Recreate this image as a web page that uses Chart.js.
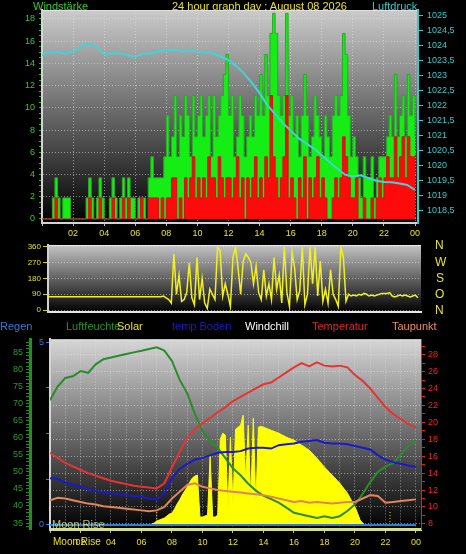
<!DOCTYPE html>
<html>
<head>
<meta charset="utf-8">
<script src="https://cdn.jsdelivr.net/npm/chart.js@4.4.1/dist/chart.umd.min.js"></script>
<style>
  html, body { margin: 0; padding: 0; background: #000; }
  #wrap { position: relative; width: 466px; height: 554px; overflow: hidden; background: #000;
          font-family: "Liberation Sans", Arial, sans-serif; }
  canvas { position: absolute; left: 0; }
  .t { position: absolute; font-size: 11px; line-height: 12px; white-space: nowrap; }
</style>
</head>
<body>
<div id="wrap">
  <canvas id="windChart" width="466" height="240" style="top:0px"></canvas>
  <canvas id="dirChart" width="466" height="82" style="top:238px"></canvas>
  <canvas id="tempChart" width="466" height="223" style="top:331px"></canvas>

  <div class="t" style="left:33px;top:0px;color:#33cc33">Windstärke</div>
  <div class="t" style="left:172px;top:0px;color:#e8e030">24 hour graph day : August 08 2026</div>
  <div class="t" style="left:372px;top:0px;color:#33cccc">Luftdruck</div>

  <div class="t" style="left:435px;top:239px;color:#e8e030;font-size:12px">N</div>
  <div class="t" style="left:435px;top:256px;color:#e8e030;font-size:12px">W</div>
  <div class="t" style="left:436px;top:272px;color:#e8e030;font-size:12px">S</div>
  <div class="t" style="left:435px;top:288px;color:#e8e030;font-size:12px">O</div>
  <div class="t" style="left:435px;top:304px;color:#e8e030;font-size:12px">N</div>

  <div class="t" style="left:0px;top:320px;color:#3b78d8">Regen</div>
  <div class="t" style="left:66px;top:320px;color:#2a8f2a">Luftfeuchte</div>
  <div class="t" style="left:117px;top:320px;color:#e8e030">Solar</div>
  <div class="t" style="left:172px;top:320px;color:#1c1cc8">temp Boden</div>
  <div class="t" style="left:245px;top:320px;color:#ffffff">Windchill</div>
  <div class="t" style="left:312px;top:320px;color:#e02424">Temperatur</div>
  <div class="t" style="left:392px;top:320px;color:#f08a64">Taupunkt</div>

  <div class="t" style="left:52px;top:518px;color:rgba(215,215,140,0.85)">Moon Rise</div>
  <div class="t" style="left:53px;top:536px;color:#e8e020;font-size:10px">Moon Rise</div>
</div>

<script>
// Wind (km/h), one value every 10 minutes, 00:00 .. 24:00
const windBoen = [
  0, 0, 0, 0, 1.9, 3.7,   1.9, 0, 1.9, 1.9, 1.9, 0,
  0, 0, 0, 0, 0, 1.9,     3.7, 1.9, 0, 1.9, 3.7, 1.9,
  0, 0, 1.9, 3.7, 1.9, 0, 1.9, 3.7, 1.9, 3.7, 1.9, 1.9,
  0, 1.9, 1.9, 1.9, 0, 3.7, 5.6, 3.7, 3.7, 3.7, 3.7, 5.6,
  9.3, 5.6, 7.4, 11.1, 5.6, 9.3,   7.4, 11.1, 9.3, 5.6, 11.1, 7.4,
  9.3, 11.1, 7.4, 9.3, 11.1, 5.6,  11.1, 7.4, 9.3, 11.1, 13, 14.8,
  9.3, 11.1, 5.6, 7.4, 11.1, 9.3,  5.6, 7.4, 9.3, 7.4, 11.1, 9.3,
  13, 9.3, 14.8, 11.1, 16.7, 18.5, 16.7, 11.1, 9.3, 11.1, 18.5, 9.3,
  11.1, 7.4, 9.3, 5.6, 9.3, 13,    9.3, 5.6, 7.4, 11.1, 9.3, 7.4,
  5.6, 9.3, 7.4, 5.6, 9.3, 11.1,   9.3, 11.1, 16.7, 14.8, 9.3, 5.6,
  7.4, 5.6, 3.7, 1.9, 5.6, 3.7,    3.7, 5.6, 1.9, 3.7, 5.6, 5.6,
  5.6, 7.4, 9.3, 7.4, 13, 7.4,     9.3, 11.1, 7.4, 13, 9.3, 11.1,
  7.4
];
const windMittel = [
  0, 0, 0, 0, 0, 1.9,     0, 0, 0, 0, 0, 0,
  0, 0, 0, 0, 0, 0,       1.9, 0, 0, 0, 1.9, 0,
  0, 0, 0, 1.9, 0, 0,     0, 1.9, 0, 1.9, 0, 0,
  0, 0, 1.9, 0, 0, 1.9,   1.9, 1.9, 1.9, 0, 1.9, 0,
  1.9, 1.9, 3.7, 3.7, 0, 1.9,     0, 3.7, 1.9, 3.7, 5.6, 1.9,
  3.7, 1.9, 3.7, 1.9, 5.6, 3.7,   3.7, 1.9, 5.6, 3.7, 1.9, 3.7,
  3.7, 1.9, 3.7, 5.6, 1.9, 3.7,   0, 3.7, 1.9, 3.7, 5.6, 1.9,
  3.7, 1.9, 5.6, 3.7, 11.1, 5.6,  3.7, 1.9, 3.7, 5.6, 11.1, 1.9,
  3.7, 1.9, 0, 3.7, 1.9, 5.6,     0, 3.7, 1.9, 3.7, 5.6, 1.9,
  3.7, 1.9, 0, 0, 1.9, 3.7,       1.9, 3.7, 7.4, 5.6, 3.7, 1.9,
  1.9, 3.7, 0, 0, 1.9, 0,         0, 1.9, 0, 1.9, 3.7, 1.9,
  3.7, 5.6, 3.7, 3.7, 7.4, 3.7,   5.6, 7.4, 3.7, 7.4, 5.6, 5.6,
  5.6
];
// Luftdruck (hPa), every 30 minutes
const luftdruck = [
  1023.67, 1023.78, 1023.75, 1023.72, 1023.78, 1023.94, 1024.05, 1023.95,
  1023.70, 1023.72, 1023.74, 1023.66, 1023.62, 1023.70, 1023.72, 1023.80,
  1023.83, 1023.85, 1023.78, 1023.83, 1023.78, 1023.76, 1023.72, 1023.62,
  1023.50, 1023.30, 1023.05, 1022.75, 1022.40, 1022.00, 1021.70, 1021.40,
  1021.15, 1020.90, 1020.72, 1020.55, 1020.33, 1020.10, 1019.88, 1019.68,
  1019.62, 1019.66, 1019.57, 1019.48, 1019.44, 1019.43, 1019.39, 1019.34,
  1019.17
];
// Windrichtung (Grad), every 10 minutes
const windRichtung = [
  76, 76, 76, 76, 76, 76, 76, 76, 76, 76, 76, 76,
  76, 76, 76, 76, 76, 76, 76, 76, 76, 76, 76, 76,
  76, 76, 76, 76, 76, 76, 76, 76, 76, 76, 76, 76,
  76, 76, 76, 76, 76, 76, 76, 76, 76, 80, 70, 60,
  40, 320, 90, 200, 50, 60,    100, 270, 70, 30, 300, 60,
  180, 40, 10, 120, 90, 60,    360, 340, 80, 150, 90, 20,
  300, 360, 240, 90, 280, 320, 300, 270, 150, 250, 100, 60,
  230, 80, 150, 60, 300, 120,  200, 40, 360, 100, 20, 330,
  240, 60, 110, 360, 30, 90,   360, 150, 360, 80, 280, 50,
  120, 40, 230, 90, 60, 20,    360, 300, 50, 90, 80, 85,
  80, 90, 85, 95, 90, 80,      85, 80, 85, 90, 95, 95,
  95, 100, 80, 75, 80, 85,     80, 85, 80, 75, 80, 85,
  70
];

// every 30 minutes
const temperatur = [
  16.4, 15.8, 15.2, 14.8, 14.4, 14.0, 13.7, 13.4, 13.1, 12.9,
  12.7, 12.5, 12.4, 12.3, 12.2, 12.8, 14.7, 16.5, 18.2, 19.2,
  19.9, 20.5, 21.2, 21.8, 22.5, 23.0, 23.5, 24.0, 24.5, 24.7,
  25.3, 25.9, 26.5, 27.0, 26.6, 27.1, 26.7, 26.6, 26.7, 26.5,
  25.6, 24.9, 24.0, 22.9, 21.8, 21.0, 20.4, 19.8, 19.4
];
const tempBoden = [
  13.4, 13.3, 12.9, 12.6, 12.4, 12.1, 11.9, 11.8, 11.6, 11.5,
  11.4, 11.3, 11.2, 11.0, 10.9, 11.6, 13.4, 14.5, 15.1, 15.6,
  15.8, 16.1, 16.4, 16.5, 16.5, 16.6, 16.9, 17.0, 17.0, 16.9,
  17.3, 17.4, 17.5, 17.7, 17.8, 17.9, 17.6, 17.5, 17.5, 17.4,
  17.2, 17.0, 16.8, 16.1, 15.6, 15.3, 15.1, 14.9, 14.75
];
const taupunkt = [
  10.8, 11.1, 11.0, 10.8, 10.6, 10.4, 10.3, 10.1, 10.0, 9.9,
  9.8, 9.7, 9.6, 9.5, 9.6, 10.0, 11.0, 11.8, 12.6, 12.8,
  12.4, 12.2, 12.0, 11.9, 11.8, 11.7, 11.6, 11.5, 11.4, 11.2,
  11.0, 10.8, 10.6, 10.7, 10.5, 10.6, 10.5, 10.4, 10.5, 10.6,
  10.6, 11.0, 11.4, 11.3, 10.5, 10.6, 10.7, 10.8, 10.9
];
const luftfeuchte = [
  71, 75, 77.5, 78, 79.5, 79, 81.5, 83, 83.5, 84,
  84.5, 85, 85.5, 86, 86.5, 85.5, 82.5, 77, 73, 67,
  62, 59, 57, 54, 51, 49, 46.5, 44.5, 43, 42,
  41, 39.5, 38, 37.5, 37, 36.5, 37, 36.5, 37, 38.5,
  40.5, 43.5, 47, 50, 51.5, 52.5, 55, 57.5, 59.3
];
// Regen (mm), hourly
const regen = [0, 0, 0, 0, 0, 0, 0, 0, 0, 0, 0, 0, 0, 0, 0, 0, 0, 0, 0, 0, 0, 0, 0, 0, 0];
// Solar (W/m2), every 10 minutes
const solar = [
  0, 0, 0, 0, 0, 0, 0, 0, 0, 0, 0, 0,
  0, 0, 0, 0, 0, 0, 0, 0, 0, 0, 0, 0,
  0, 0, 0, 0, 0, 0, 0, 0, 0, 0, 0, 0,
  0, 0, 0, 0, 5, 10, 20, 25, 30, 35, 45, 55,
  60, 80, 105, 125, 150, 170,    190, 215, 235, 245, 250, 40,
  40, 45, 50, 345, 40, 40,       50, 430, 460, 450, 80, 440,
  100, 480, 490, 500, 550, 220,  500, 130, 535, 110, 490, 495,
  490, 485, 480, 475, 470, 465,  460, 453, 447, 440, 435, 430,
  425, 417, 408, 400, 392, 383,  375, 362, 348, 335, 320, 305,
  290, 277, 263, 250, 237, 223,  210, 193, 177, 160, 137, 113,
  90, 60, 25, 10, 0, 0,          0, 0, 0, 0, 0, 0,
  0, 0, 0, 0, 0, 0,              0, 0, 0, 0, 0, 0,
  0
];
// sunrise / sunset markers (hours)
const sonneMarken = [7.0, 22.3];

Chart.defaults.font.family = "'Liberation Sans', Arial, sans-serif";

const series = (vals, stepH) => vals.map((v, i) => ({ x: i * stepH, y: v }));
const hh = v => String(v % 24).padStart(2, "0");
const gridCol = "rgba(225,225,225,0.55)";
const tickFont = { size: 9 };
const isStep = (v, s) => Math.abs(v / s - Math.round(v / s)) < 1e-6;

const plotBg = {
  id: "plotBg",
  beforeDraw(chart, args, opts) {
    const { ctx, chartArea: a } = chart;
    const g = ctx.createLinearGradient(0, a.top, 0, a.bottom);
    g.addColorStop(0, opts.top || "#cdcdcd");
    g.addColorStop(1, "#000000");
    ctx.save();
    ctx.fillStyle = g;
    ctx.fillRect(a.left, a.top, a.width, a.height);
    ctx.strokeStyle = opts.frame || "#dddddd";
    ctx.lineWidth = 1;
    ctx.beginPath();
    ctx.moveTo(a.left, a.top + 0.5);
    ctx.lineTo(a.right, a.top + 0.5);
    ctx.stroke();
    ctx.restore();
  }
};

const base = {
  responsive: false,
  animation: false,
  devicePixelRatio: 1,
  elements: { point: { radius: 0 }, line: { tension: 0 } },
};

// ---- Windstärke / Luftdruck ----
new Chart(document.getElementById("windChart"), {
  type: "line",
  data: {
    datasets: [
      { data: series(luftdruck, 0.5), yAxisID: "yp", borderColor: "#40d4d8", borderWidth: 2, order: 0 },
      { data: series(windMittel, 1 / 6), yAxisID: "yw", stepped: true, fill: "origin",
        borderColor: "#c81818", backgroundColor: "#ff0a0a", borderWidth: 1, order: 1 },
      { data: series(windBoen, 1 / 6), yAxisID: "yw", stepped: true, fill: "origin",
        borderColor: "#2aa82a", backgroundColor: "#14ee14", borderWidth: 1, order: 2 }
    ]
  },
  options: {
    ...base,
    layout: { padding: { top: 10 } },
    plugins: { legend: { display: false }, tooltip: { enabled: false }, plotBg: { top: "#cbcbcb", frame: "#e0e0e0" } },
    scales: {
      x: {
        type: "linear", min: 0, max: 24.19,
        afterFit: s => { s.height = 17; },
        ticks: { stepSize: 2, autoSkip: false, maxRotation: 0, includeBounds: false, color: "#e8e030",
                 font: tickFont, padding: 2, callback: v => (v === 0 ? "" : hh(v)) },
        grid: { color: gridCol, tickColor: "#bbbbbb", tickLength: 3 },
        border: { color: "#d4d4d4", width: 2, dash: [1, 2] }
      },
      yw: {
        position: "left", min: -0.36, max: 18.8,
        afterFit: s => { s.width = 42; },
        ticks: { stepSize: 0.5, autoSkip: false, includeBounds: false, color: "#33cc33", font: tickFont, padding: 4,
                 callback: v => (isStep(v, 2) ? String(Math.round(v)) : "") },
        grid: { color: c => (isStep(c.tick.value, 2) ? gridCol : "transparent"), tickColor: "#2aa82a", tickLength: 3 },
        border: { color: "#d4d4d4", width: 2, dash: [1, 2] }
      },
      yp: {
        position: "right", min: 1018.07, max: 1025.17,
        afterFit: s => { s.width = 48; },
        ticks: { stepSize: 0.5, autoSkip: false, includeBounds: false, color: "#33cccc", font: tickFont, padding: 4,
                 callback: v => String(Math.round(v * 10) / 10).replace(".", ",") },
        grid: { drawOnChartArea: false, tickColor: "#33cccc", tickLength: 5 },
        border: { color: "#33cccc", width: 2 }
      }
    }
  },
  plugins: [plotBg]
});

// ---- Windrichtung ----
new Chart(document.getElementById("dirChart"), {
  type: "line",
  data: {
    datasets: [
      { data: series(windRichtung, 1 / 6), borderColor: "#f0f020", borderWidth: 1.5 }
    ]
  },
  options: {
    ...base,
    layout: { padding: { top: 7, right: 45, bottom: 8 } },
    plugins: { legend: { display: false }, tooltip: { enabled: false }, plotBg: { top: "#c4c4c4", frame: "#e8e8e8" } },
    scales: {
      x: {
        type: "linear", min: 0, max: 24.2,
        afterFit: s => { s.height = 0; },
        ticks: { display: false },
        grid: { display: false },
        border: { color: "#e6e6e6", width: 2 }
      },
      y: {
        min: -11, max: 371,
        afterFit: s => { s.width = 48; },
        ticks: { stepSize: 90, autoSkip: false, includeBounds: false, color: "#e0e020", font: { size: 8 }, padding: 2 },
        grid: { color: gridCol, tickColor: "#d0d020", tickLength: 5 },
        border: { color: "#d0d0d0", width: 2, dash: [1, 2] }
      }
    }
  },
  plugins: [plotBg]
});

// ---- Temperaturen / Feuchte / Solar ----
const tempSets = [
  { data: series(temperatur, 0.5), yAxisID: "yt", borderColor: "#e63434", borderWidth: 2, order: 0 },
  { data: series(tempBoden, 0.5), yAxisID: "yt", borderColor: "#1a1ac8", borderWidth: 2, order: 1 },
  { data: series(taupunkt, 0.5), yAxisID: "yt", borderColor: "#e2845a", borderWidth: 2, order: 2 },
  { data: series(luftfeuchte, 0.5), yAxisID: "yh", borderColor: "#2b8c2b", borderWidth: 2, order: 3 },
  { data: series(regen, 1), yAxisID: "yr", borderColor: "#2f7fd0", borderWidth: 2, order: 4 },
  { data: series(solar, 1 / 6), yAxisID: "ys", fill: "origin", borderColor: "#ffff00",
    backgroundColor: "#ffff00", borderWidth: 1, order: 5 }
];
sonneMarken.forEach(t => {
  tempSets.push({ data: [{ x: t, y: 0 }, { x: t, y: 75 }], yAxisID: "ys", borderColor: "#e8e030",
                  borderWidth: 1, borderDash: [1, 2], order: 6 });
});

new Chart(document.getElementById("tempChart"), {
  type: "line",
  data: { datasets: tempSets },
  options: {
    ...base,
    layout: { padding: { top: 8 } },
    plugins: { legend: { display: false }, tooltip: { enabled: false }, plotBg: { top: "#d6d6d6", frame: "#e4e4e4" } },
    scales: {
      x: {
        type: "linear", min: 0, max: 24.33,
        afterFit: s => { s.height = 25; },
        ticks: { stepSize: 1, autoSkip: false, maxRotation: 0, includeBounds: false, color: "#e8e020", font: tickFont,
                 padding: 4, callback: v => (v % 2 || v === 0 ? "" : hh(v)) },
        grid: { color: gridCol, tickColor: c => (c.tick.value % 2 ? "transparent" : "#bbbbbb"), tickLength: 4 },
        border: { color: "#d6de8c", width: 3, dash: [1, 2] }
      },
      yh: {
        position: "left", weight: 2, min: 33.25, max: 88.8,
        afterFit: s => { s.width = 30; },
        ticks: { stepSize: 1, autoSkip: false, includeBounds: false, color: "#2a9a2a", font: tickFont, padding: 3,
                 callback: v => (v % 5 ? "" : String(v)) },
        grid: { drawOnChartArea: false, tickColor: "#1f8a1f", tickLength: 4 },
        border: { color: "#1f8f1f", width: 3 }
      },
      yr: {
        position: "left", weight: 1, min: -0.11, max: 5.08,
        afterFit: s => { s.width = 20; },
        ticks: { stepSize: 1.25, autoSkip: false, includeBounds: false, color: "#3b78d8", font: tickFont, padding: 2,
                 callback: v => (v === 0 || v === 5 ? String(v) : "") },
        grid: { drawOnChartArea: false, tickColor: "#3b78d8", tickLength: 4 },
        border: { color: "#d4d4d4", width: 2 }
      },
      yt: {
        position: "right", min: 7.4, max: 29.8,
        afterFit: s => { s.width = 45; },
        ticks: { stepSize: 1, autoSkip: false, includeBounds: false, color: "#ee2626", font: tickFont, padding: 3,
                 callback: v => (v % 2 ? "" : String(v)) },
        grid: { color: c => (c.tick.value % 2 ? "transparent" : gridCol), tickColor: "#dd2222", tickLength: 4 },
        border: { color: "#dd2222", width: 1, dash: [1, 2] }
      },
      ys: { display: false, min: -20, max: 930 }
    }
  },
  plugins: [plotBg]
});
</script>
</body>
</html>
